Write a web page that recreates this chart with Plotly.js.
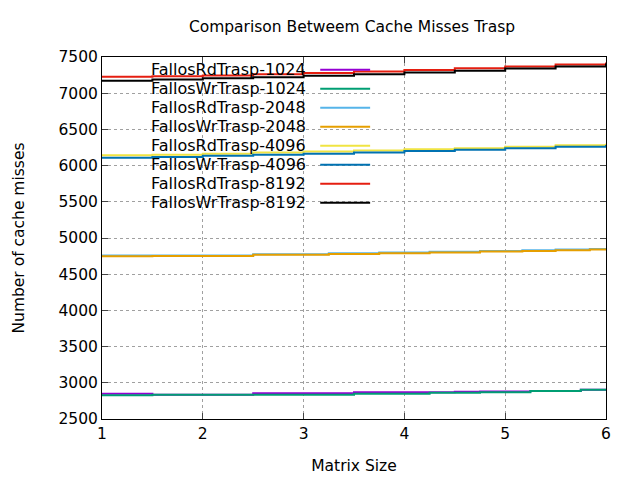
<!DOCTYPE html>
<html>
<head>
<meta charset="utf-8">
<script src="https://cdn.plot.ly/plotly-3.0.1.min.js"></script>
<style>body{margin:0}#chart{width:640px;height:480px}</style>
</head>
<body>
<div id="chart"></div>
<script>
// nombres de las series
var names = ['FallosRdTrasp-1024','FallosWrTrasp-1024','FallosRdTrasp-2048','FallosWrTrasp-2048',
             'FallosRdTrasp-4096','FallosWrTrasp-4096','FallosRdTrasp-8192','FallosWrTrasp-8192'];
var colors = ['#9400d3','#009e73','#56b4e9','#e69f00','#f0e442','#0072b2','#e51e10','#000000'];

// puntos de escalon (x) y valores
var x1024 = [1, 1.5, 2.5, 3.5, 4.25, 4.5, 4.75, 5.25, 5.75, 6];
var rd1024 = [2849, 2836, 2855, 2868, 2868, 2875, 2880, 2888, 2904, 2904];
var wr1024 = [2827, 2836, 2836, 2849, 2863, 2863, 2870, 2886, 2904, 2904];

var x2048 = [1, 1.5, 2.5, 3.25, 3.75, 4.25, 4.75, 5.17, 5.5, 5.84, 6];
var rd2048 = [4757, 4760, 4777, 4790, 4800, 4810, 4822, 4830, 4840, 4848, 4848];
var wr2048 = [4747, 4753, 4767, 4780, 4790, 4800, 4812, 4820, 4830, 4840, 4840];

var x4096 = [1, 1.5, 2, 2.5, 3, 3.5, 4, 4.5, 5, 5.5, 6];
var rd4096 = [6142, 6150, 6165, 6180, 6195, 6210, 6225, 6240, 6260, 6280, 6302];
var wr4096 = [6109, 6120, 6135, 6150, 6165, 6180, 6200, 6220, 6240, 6260, 6285];

var x8192 = [1, 1.5, 2, 2.5, 3, 3.5, 4, 4.5, 5, 5.5, 6];
var rd8192 = [7228, 7235, 7245, 7262, 7280, 7300, 7320, 7345, 7370, 7395, 7425];
var wr8192 = [7172, 7190, 7205, 7222, 7240, 7262, 7285, 7310, 7340, 7370, 7411];

var xs = [x1024, x1024, x2048, x2048, x4096, x4096, x8192, x8192];
var ys = [rd1024, wr1024, rd2048, wr2048, rd4096, wr4096, rd8192, wr8192];

var data = [];
for (var i = 0; i < names.length; i++) {
	data.push({
		x: xs[i], y: ys[i], type: 'scatter', mode: 'lines', name: names[i],
		line: {color: colors[i], width: 2, shape: 'hv'}
	});
}

// leyenda estilo gnuplot: texto a la izquierda, muestra a la derecha
var annotations = [], shapes = [];
for (var i = 0; i < names.length; i++) {
	var yy = 0.965 - i * 0.0525;
	annotations.push({xref: 'paper', yref: 'paper', x: 0.408, y: yy, xanchor: 'right', yanchor: 'middle',
		text: names[i], showarrow: false, font: {size: 16, color: '#000'}});
	shapes.push({type: 'line', xref: 'paper', yref: 'paper', x0: 0.433, x1: 0.532, y0: yy, y1: yy,
		line: {color: colors[i], width: 2}});
}

var axisBase = {
	showgrid: true, gridcolor: '#a0a0a0', griddash: 'dot', gridwidth: 1,
	showline: true, linecolor: '#000', linewidth: 1, mirror: 'ticks',
	ticks: 'inside', ticklen: 6, zeroline: false,
	tickfont: {size: 15.5, color: '#000'}
};

var layout = {
	width: 640, height: 480,
	margin: {l: 102, r: 34, t: 57, b: 61},
	font: {family: 'DejaVu Sans, sans-serif', color: '#000'},
	paper_bgcolor: '#fff', plot_bgcolor: '#fff',
	showlegend: false,
	title: {text: 'Comparison Betweem Cache Misses Trasp', font: {size: 15.5}, x: 0.55, y: 0.955, xanchor: 'center'},
	xaxis: Object.assign({}, axisBase, {range: [1, 6], dtick: 1,
		title: {text: 'Matrix Size', font: {size: 15.5}, standoff: 18}}),
	yaxis: Object.assign({}, axisBase, {range: [2500, 7500], dtick: 500,
		title: {text: 'Number of cache misses', font: {size: 15.5}, standoff: 30}}),
	annotations: annotations,
	shapes: shapes
};

Plotly.newPlot('chart', data, layout, {displayModeBar: false, staticPlot: true});
</script>
</body>
</html>
